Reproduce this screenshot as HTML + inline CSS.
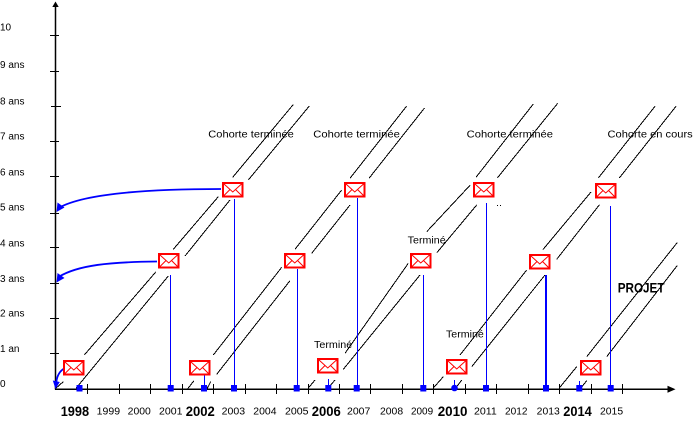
<!DOCTYPE html>
<html>
<head>
<meta charset="utf-8">
<style>
html,body{margin:0;padding:0;background:#fff;}
svg{display:block;}
text{font-family:"Liberation Sans",Arial,sans-serif;fill:#000;}
</style>
</head>
<body>
<svg width="700" height="421" viewBox="0 0 700 421" xmlns="http://www.w3.org/2000/svg">
<rect width="700" height="421" fill="#fff"/>

<!-- Y labels -->
<g font-size="10">
<text x="0" y="30.3">10</text>
<text x="0" y="68">9 ans</text>
<text x="0" y="104.3">8 ans</text>
<text x="0" y="139.6">7 ans</text>
<text x="0" y="175.3">6 ans</text>
<text x="0" y="210.3">5 ans</text>
<text x="0" y="246.3">4 ans</text>
<text x="0" y="282">3 ans</text>
<text x="0" y="316.3">2 ans</text>
<text x="0" y="352">1 an</text>
<text x="0" y="387">0</text>
</g>

<!-- Diagonal cohort lines -->
<g stroke="#000" stroke-width="1" fill="none" shape-rendering="crispEdges">
<!-- Cohort A -->
<path d="M55.5,388.5 L63.3,381.7 M84.3,355 L156,271.7 M173.3,249.3 L218.3,196.7 M232.7,177.3 L293.3,104.5"/>
<path d="M76,388.3 L168.3,276 M185,256 L230,200 M248.3,180 L309.3,106"/>
<!-- Cohort B -->
<path d="M186.7,390 L194,380.7 M213.3,355 L281.7,267.3 M295,249.3 L341.7,190 M350,178.3 L406.7,106"/>
<path d="M206.7,389.3 L210.7,381.7 M216.7,374.3 L290,280.7 M311.7,253.3 L350,205 M369,178.3 L424.5,108"/>
<!-- Cohort C -->
<path d="M308.3,388 L315,380 M345,353.3 L408.3,263.3 M426.7,231.7 L470,185.3 M476,177.3 L533.3,104"/>
<path d="M329.3,386.7 L335,380 M343.3,369.3 L420,275 M437,252.5 L476.7,205 M497.3,178 L557.7,103.3"/>
<!-- Cohort D -->
<path d="M433.3,388 L443.3,376.7 M460,355 L526.7,270 M543,249.5 L591,192 M598.3,178 L655,106.3"/>
<path d="M456.7,386.7 L461.7,380 M471.7,366.7 L545,275 M556.7,259.3 L599.5,204.7 M619.3,178 L676,106.3"/>
<!-- Cohort E -->
<path d="M559.3,388 L576.7,366.7 M586.7,356.7 L677.3,242.5"/>
<path d="M581.7,387 L586.7,380.7 M606.7,356.7 L677.3,265.5"/>
</g>

<!-- Axes -->
<g stroke="#000" fill="none">
<line x1="55.5" y1="5" x2="55.5" y2="389.5" stroke-width="1.5"/>
<line x1="55" y1="389.2" x2="670" y2="389.2" stroke-width="1.5"/>
</g>
<polygon points="55.5,1.5 52.3,7 58.7,7" fill="#000"/>
<polygon points="675.5,389.2 667.5,385.7 667.5,392.7" fill="#000"/>

<!-- Y ticks -->
<g stroke="#000" stroke-width="1" shape-rendering="crispEdges">
<line x1="50" y1="35.5" x2="59" y2="35.5"/>
<line x1="50" y1="71.5" x2="59" y2="71.5"/>
<line x1="51" y1="106.5" x2="61" y2="106.5"/>
<line x1="50" y1="141.5" x2="59" y2="141.5"/>
<line x1="50" y1="176.5" x2="59" y2="176.5"/>
<line x1="50" y1="213.5" x2="59" y2="213.5"/>
<line x1="50" y1="247.5" x2="59" y2="247.5"/>
<line x1="50" y1="283.5" x2="59" y2="283.5"/>
<line x1="50" y1="318.5" x2="59" y2="318.5"/>
<line x1="50" y1="353.5" x2="59" y2="353.5"/>
</g>

<!-- X ticks -->
<g stroke="#000" stroke-width="1" shape-rendering="crispEdges">
<line x1="87.5" y1="384" x2="87.5" y2="394"/>
<line x1="119.5" y1="384" x2="119.5" y2="394"/>
<line x1="150.5" y1="384" x2="150.5" y2="394"/>
<line x1="182.5" y1="384" x2="182.5" y2="394"/>
<line x1="213.5" y1="384" x2="213.5" y2="394"/>
<line x1="245.5" y1="384" x2="245.5" y2="394"/>
<line x1="276.5" y1="384" x2="276.5" y2="394"/>
<line x1="308.5" y1="384" x2="308.5" y2="394"/>
<line x1="339.5" y1="384" x2="339.5" y2="394"/>
<line x1="370.5" y1="384" x2="370.5" y2="394"/>
<line x1="402.5" y1="384" x2="402.5" y2="394"/>
<line x1="433.5" y1="384" x2="433.5" y2="394"/>
<line x1="465.5" y1="384" x2="465.5" y2="394"/>
<line x1="496.5" y1="384" x2="496.5" y2="394"/>
<line x1="528.5" y1="384" x2="528.5" y2="394"/>
<line x1="559.5" y1="384" x2="559.5" y2="394"/>
<line x1="591.5" y1="384" x2="591.5" y2="394"/>
<line x1="622.5" y1="384" x2="622.5" y2="394"/>
</g>

<!-- Year labels -->
<g font-size="10">
<text x="96.7" y="414.6" textLength="23.4" lengthAdjust="spacingAndGlyphs">1999</text>
<text x="127.7" y="414.6" textLength="23.1" lengthAdjust="spacingAndGlyphs">2000</text>
<text x="159" y="414.6" textLength="23.5" lengthAdjust="spacingAndGlyphs">2001</text>
<text x="221.7" y="414.6" textLength="23.4" lengthAdjust="spacingAndGlyphs">2003</text>
<text x="253.3" y="414.6" textLength="23.2" lengthAdjust="spacingAndGlyphs">2004</text>
<text x="285" y="414.6" textLength="23.5" lengthAdjust="spacingAndGlyphs">2005</text>
<text x="347" y="414.6" textLength="23.3" lengthAdjust="spacingAndGlyphs">2007</text>
<text x="380" y="414.6" textLength="23.1" lengthAdjust="spacingAndGlyphs">2008</text>
<text x="411" y="414.6" textLength="22.1" lengthAdjust="spacingAndGlyphs">2009</text>
<text x="474" y="414.6" textLength="22.8" lengthAdjust="spacingAndGlyphs">2011</text>
<text x="505" y="414.6" textLength="22.5" lengthAdjust="spacingAndGlyphs">2012</text>
<text x="536.7" y="414.6" textLength="23.1" lengthAdjust="spacingAndGlyphs">2013</text>
<text x="600" y="414.6" textLength="23.1" lengthAdjust="spacingAndGlyphs">2015</text>
</g>
<g font-size="14" font-weight="bold">
<text x="60.7" y="416" textLength="28.4" lengthAdjust="spacingAndGlyphs">1998</text>
<text x="185.7" y="416" textLength="29.1" lengthAdjust="spacingAndGlyphs">2002</text>
<text x="311.7" y="416" textLength="29.1" lengthAdjust="spacingAndGlyphs">2006</text>
<text x="437.7" y="416" textLength="29.8" lengthAdjust="spacingAndGlyphs">2010</text>
<text x="563.3" y="416" textLength="28.5" lengthAdjust="spacingAndGlyphs">2014</text>
</g>

<!-- Annotations -->
<g font-size="10.5">
<text x="208.3" y="137.5" textLength="85.5" lengthAdjust="spacingAndGlyphs">Cohorte terminée</text>
<text x="313.3" y="137.5" textLength="86.5" lengthAdjust="spacingAndGlyphs">Cohorte terminée</text>
<text x="466.7" y="137.5" textLength="86.3" lengthAdjust="spacingAndGlyphs">Cohorte terminée</text>
<text x="607.5" y="137.5" textLength="85.2" lengthAdjust="spacingAndGlyphs">Cohorte en cours</text>
<text x="314" y="348" textLength="38.2" lengthAdjust="spacingAndGlyphs">Terminé</text>
<text x="407.7" y="243.7" textLength="38" lengthAdjust="spacingAndGlyphs">Terminé</text>
<text x="446" y="337.5" textLength="37.8" lengthAdjust="spacingAndGlyphs">Terminé</text>
</g>
<text x="617.7" y="292.5" font-size="14" font-weight="bold" textLength="46.8" lengthAdjust="spacingAndGlyphs">PROJET</text>
<rect x="497" y="205" width="1" height="1" fill="#000"/>
<rect x="500" y="205" width="1" height="1" fill="#000"/>

<!-- Blue curved arrows -->
<g stroke="#0000ff" fill="none" stroke-width="1.8">
<path d="M221,189 C150,189 85,193 58.5,208"/>
<path d="M157,261.5 C110,262 78,265 58.5,277"/>
<path d="M65,368 Q57.5,372 56.3,382"/>
</g>
<g fill="#0000ff">
<polygon points="56.5,212 57.5,202.5 64.5,207.5"/>
<polygon points="56.5,282.5 57.5,273 64.5,278"/>
<polygon points="55.5,389 52.8,380.5 59.8,382"/>
</g>

<!-- Envelopes -->
<g>
<g transform="translate(63,360)"><rect x="1" y="1" width="19.5" height="13.5" fill="#fff" stroke="#f00" stroke-width="2"/><path d="M2,2 L10.75,10 L19.5,2 M2,13.5 L8,7.5 M19.5,13.5 L13.5,7.5" fill="none" stroke="#f00" stroke-width="1"/></g>
<g transform="translate(158,253)"><rect x="1" y="1" width="19.5" height="13.5" fill="#fff" stroke="#f00" stroke-width="2"/><path d="M2,2 L10.75,10 L19.5,2 M2,13.5 L8,7.5 M19.5,13.5 L13.5,7.5" fill="none" stroke="#f00" stroke-width="1"/></g>
<g transform="translate(222,182)"><rect x="1" y="1" width="19.5" height="13.5" fill="#fff" stroke="#f00" stroke-width="2"/><path d="M2,2 L10.75,10 L19.5,2 M2,13.5 L8,7.5 M19.5,13.5 L13.5,7.5" fill="none" stroke="#f00" stroke-width="1"/></g>
<g transform="translate(189,360)"><rect x="1" y="1" width="19.5" height="13.5" fill="#fff" stroke="#f00" stroke-width="2"/><path d="M2,2 L10.75,10 L19.5,2 M2,13.5 L8,7.5 M19.5,13.5 L13.5,7.5" fill="none" stroke="#f00" stroke-width="1"/></g>
<g transform="translate(284,253)"><rect x="1" y="1" width="19.5" height="13.5" fill="#fff" stroke="#f00" stroke-width="2"/><path d="M2,2 L10.75,10 L19.5,2 M2,13.5 L8,7.5 M19.5,13.5 L13.5,7.5" fill="none" stroke="#f00" stroke-width="1"/></g>
<g transform="translate(317,358)"><rect x="1" y="1" width="19.5" height="13.5" fill="#fff" stroke="#f00" stroke-width="2"/><path d="M2,2 L10.75,10 L19.5,2 M2,13.5 L8,7.5 M19.5,13.5 L13.5,7.5" fill="none" stroke="#f00" stroke-width="1"/></g>
<g transform="translate(344,182)"><rect x="1" y="1" width="19.5" height="13.5" fill="#fff" stroke="#f00" stroke-width="2"/><path d="M2,2 L10.75,10 L19.5,2 M2,13.5 L8,7.5 M19.5,13.5 L13.5,7.5" fill="none" stroke="#f00" stroke-width="1"/></g>
<g transform="translate(410,253)"><rect x="1" y="1" width="19.5" height="13.5" fill="#fff" stroke="#f00" stroke-width="2"/><path d="M2,2 L10.75,10 L19.5,2 M2,13.5 L8,7.5 M19.5,13.5 L13.5,7.5" fill="none" stroke="#f00" stroke-width="1"/></g>
<g transform="translate(473,182)"><rect x="1" y="1" width="19.5" height="13.5" fill="#fff" stroke="#f00" stroke-width="2"/><path d="M2,2 L10.75,10 L19.5,2 M2,13.5 L8,7.5 M19.5,13.5 L13.5,7.5" fill="none" stroke="#f00" stroke-width="1"/></g>
<g transform="translate(446,359)"><rect x="1" y="1" width="19.5" height="13.5" fill="#fff" stroke="#f00" stroke-width="2"/><path d="M2,2 L10.75,10 L19.5,2 M2,13.5 L8,7.5 M19.5,13.5 L13.5,7.5" fill="none" stroke="#f00" stroke-width="1"/></g>
<g transform="translate(529,254)"><rect x="1" y="1" width="19.5" height="13.5" fill="#fff" stroke="#f00" stroke-width="2"/><path d="M2,2 L10.75,10 L19.5,2 M2,13.5 L8,7.5 M19.5,13.5 L13.5,7.5" fill="none" stroke="#f00" stroke-width="1"/></g>
<g transform="translate(595,183)"><rect x="1" y="1" width="19.5" height="13.5" fill="#fff" stroke="#f00" stroke-width="2"/><path d="M2,2 L10.75,10 L19.5,2 M2,13.5 L8,7.5 M19.5,13.5 L13.5,7.5" fill="none" stroke="#f00" stroke-width="1"/></g>
<g transform="translate(580,360)"><rect x="1" y="1" width="19.5" height="13.5" fill="#fff" stroke="#f00" stroke-width="2"/><path d="M2,2 L10.75,10 L19.5,2 M2,13.5 L8,7.5 M19.5,13.5 L13.5,7.5" fill="none" stroke="#f00" stroke-width="1"/></g>
</g>

<!-- Blue vertical lines -->
<g stroke="#0000ff" stroke-width="1" shape-rendering="crispEdges">
<line x1="170.5" y1="275" x2="170.5" y2="389"/>
<line x1="204.5" y1="375.5" x2="204.5" y2="389"/>
<line x1="234.5" y1="199" x2="234.5" y2="389"/>
<line x1="297.5" y1="269" x2="297.5" y2="389"/>
<line x1="328.5" y1="379" x2="328.5" y2="389"/>
<line x1="357.5" y1="198" x2="357.5" y2="389"/>
<line x1="423.5" y1="275" x2="423.5" y2="389"/>
<line x1="454.5" y1="380" x2="454.5" y2="389"/>
<line x1="486.5" y1="203" x2="486.5" y2="389"/>
<line x1="546" y1="275" x2="546" y2="389" stroke-width="2"/>
<line x1="579.5" y1="381" x2="579.5" y2="389"/>
<line x1="610.5" y1="206" x2="610.5" y2="389"/>
</g>

<!-- Blue dots -->
<g fill="#0000ff">
<rect x="76.5" y="385" width="6" height="6.5"/>
<rect x="167.7" y="385" width="6" height="6.5"/>
<rect x="201" y="385" width="6" height="6.5"/>
<rect x="231" y="385" width="6" height="6.5"/>
<rect x="293.7" y="385" width="6" height="6.5"/>
<rect x="325.3" y="385" width="6" height="6.5"/>
<rect x="353.7" y="385" width="6" height="6.5"/>
<rect x="420.3" y="385" width="6" height="6.5"/>
<circle cx="454.5" cy="388" r="3.3"/>
<rect x="483" y="385" width="6" height="6.5"/>
<rect x="543" y="385" width="6" height="6.5"/>
<rect x="576.3" y="385" width="6" height="6.5"/>
<rect x="607.7" y="385" width="6" height="6.5"/>
</g>
</svg>
</body>
</html>
